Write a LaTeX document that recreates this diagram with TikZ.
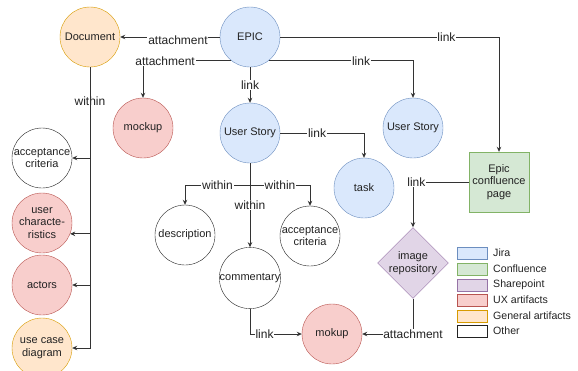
\documentclass[tikz,border=0pt]{standalone}
\usepackage{fontspec}
\setmainfont{Liberation Sans}
\usetikzlibrary{arrows.meta,shapes.geometric,positioning}
\definecolor{jiraF}{HTML}{DAE8FC}\definecolor{jiraD}{HTML}{6C8EBF}
\definecolor{confF}{HTML}{D5E8D4}\definecolor{confD}{HTML}{82B366}
\definecolor{shpF}{HTML}{E1D5E7}\definecolor{shpD}{HTML}{9673A6}
\definecolor{uxF}{HTML}{F8CECC}\definecolor{uxD}{HTML}{B85450}
\definecolor{genF}{HTML}{FFE6CC}\definecolor{genD}{HTML}{D79B00}
\definecolor{ink}{HTML}{222222}
\definecolor{wire}{HTML}{333333}
\tikzset{
  x=1pt, y=-1pt,
  every node/.style={text=ink},
  circ/.style={circle, draw, minimum size=60pt, inner sep=0pt, align=center,
               font=\fontsize{11}{12.5}\selectfont},
  jira/.style={circ, fill=jiraF, draw=jiraD},
  ux/.style={circ, fill=uxF, draw=uxD},
  gen/.style={circ, fill=genF, draw=genD},
  other/.style={circ, fill=white, draw=ink},
  wirearr/.style={draw=wire, line width=0.7pt, -{Stealth[length=5pt,width=4.5pt]}},
  lbl/.style={fill=white, inner sep=0.8pt, font=\fontsize{12}{13}\selectfont},
  legbox/.style={draw, minimum width=30pt, minimum height=12pt, inner sep=0pt},
  legtxt/.style={anchor=west, inner sep=0pt, font=\fontsize{10.6}{12}\selectfont},
}
\begin{document}
\begin{tikzpicture}
\useasboundingbox (0,0) rectangle (578,370);

% main artefacts
\node[jira]  (epic) at (250,37)  {EPIC};
\node[gen]   (doc)  at (90,37)   {Document};
\node[ux]    (mock) at (143,128) {mockup};
\node[jira]  (us)   at (250,133) {User Story};
\node[jira]  (us2)  at (413,128) {User Story};
\node[jira]  (task) at (364,188) {task};
\node[draw=confD, fill=confF, minimum width=60pt, minimum height=60pt, inner sep=0pt,
      align=center, font=\fontsize{11}{12.5}\selectfont] (conf) at (499,182) {Epic\\confluence\\page};

% contents of the document
\node[other] (accL) at (42,158) {acceptance\\criteria};
\node[ux]    (uc)   at (42,223) {user\\characte-\\ristics};
\node[ux]    (act)  at (42,285) {actors};
\node[gen]   (ucd)  at (42,348) {use case\\diagram};

% contents of the user story
\node[other] (desc) at (185,235) {description};
\node[other] (accR) at (310,236) {acceptance\\criteria};
\node[other] (comm) at (250,278) {commentary};
\node[ux]    (mok)  at (332,334) {mokup};
\node[diamond, draw=shpD, fill=shpF, minimum width=60pt, minimum height=60pt, inner sep=0pt,
      align=center, font=\fontsize{11}{12.5}\selectfont] (repo) at (413,263) {image\\repository};

% connectors from the epic
\draw[wirearr] (epic) -- node[lbl, pos=0.42, yshift=-3pt]{attachment} (doc);
\draw[wirearr] (epic.232.5) -| node[lbl, pos=0.375]{attachment} (mock);
\draw[wirearr] (epic.-52.5) -| node[lbl, pos=0.32]{link} (us2);
\draw[wirearr] (epic.east) -| node[lbl, pos=0.38]{link} (conf);
\draw[wirearr] (epic) -- node[lbl]{link} (us);

% connectors from the user story
\draw[wirearr] (us.east) -| node[lbl, pos=0.22]{link} (task);
\draw[wirearr] (us.south) -- ++(0,22) -| node[lbl, pos=0.25]{within} (desc);
\draw[wirearr] (us.south) -- ++(0,22) -| node[lbl, pos=0.25]{within} (accR);
\draw[wirearr] (us) -- node[lbl, pos=0.5]{within} (comm);
\draw[wirearr] (comm.south) |- node[lbl, pos=0.64]{link} (mok.west);

% confluence page and image repository
\draw[wirearr] (conf.west) -| node[lbl, pos=0.47]{link} (repo.north);
\draw[wirearr] (repo.south) |- node[lbl, pos=0.5]{attachment} (mok.east);

% document trunk
\draw[wirearr] (doc.south) |- node[lbl, pos=0.06]{within} (ucd.east);
\draw[wirearr] (doc.south) |- (accL.east);
\draw[wirearr] (doc.south) |- (uc.-21.5);
\draw[wirearr] (doc.south) |- (act.east);

% legend
\node[legbox, draw=jiraD, fill=jiraF] (l1) at (472,253) {};
\node[legbox, draw=confD, fill=confF] (l2) at (472,269) {};
\node[legbox, draw=shpD,  fill=shpF]  (l3) at (472,285) {};
\node[legbox, draw=uxD,   fill=uxF]   (l4) at (472,300) {};
\node[legbox, draw=genD,  fill=genF]  (l5) at (472,316) {};
\node[legbox, draw=ink,   fill=white] (l6) at (472,331) {};
\node[legtxt] (t1) at (493,253) {Jira};
\node[legtxt] (t2) at (493,269) {Confluence};
\node[legtxt] (t3) at (493,285) {Sharepoint};
\node[legtxt] (t4) at (493,300) {UX artifacts};
\node[legtxt] (t5) at (493,316) {General artifacts};
\node[legtxt] (t6) at (493,331) {Other};
\end{tikzpicture}
\end{document}
